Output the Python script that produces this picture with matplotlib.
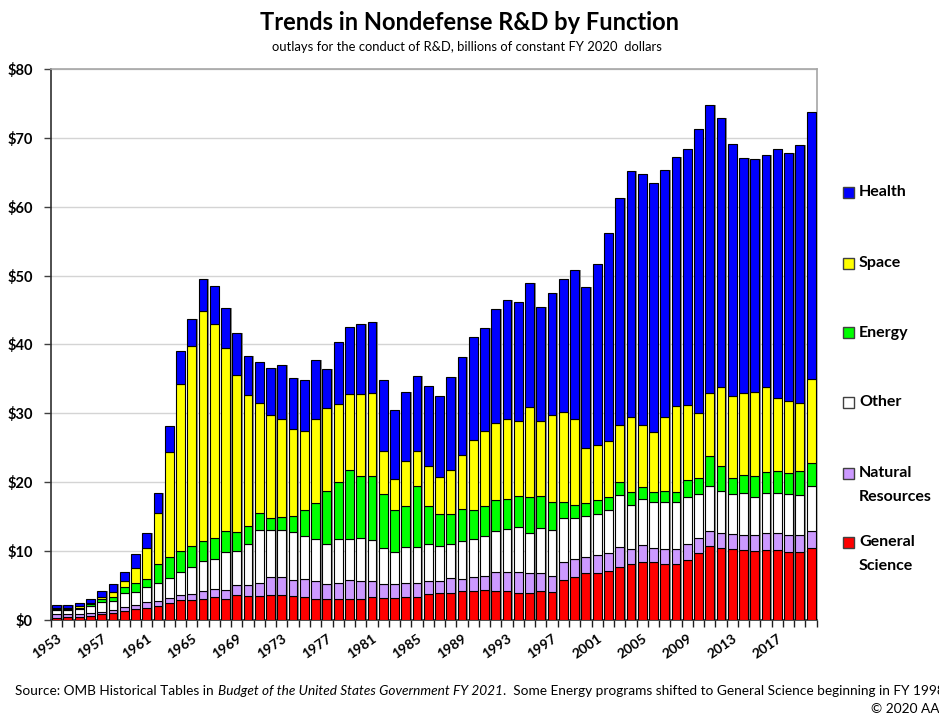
import numpy as np
import matplotlib.pyplot as plt
from matplotlib.patches import Rectangle

# Nondefense R&D outlays by function, billions of constant FY 2020 dollars
years = list(range(1953, 2021))

general_science = [
    0.35, 0.4, 0.45, 0.55, 0.8, 1.0, 1.35, 1.55, 1.8, 2.1,
    2.45, 2.85, 2.85, 3.1, 3.4, 3.1, 3.65, 3.5, 3.5, 3.6,
    3.6, 3.5, 3.35, 3.1, 3.1, 3.05, 3.05, 3.05, 3.4, 3.2,
    3.2, 3.35, 3.35, 3.8, 3.95, 3.95, 4.15, 4.15, 4.3, 4.15,
    4.15, 3.9, 3.95, 4.25, 4.1, 5.75, 6.3, 6.75, 6.85, 7.05,
    7.75, 8.2, 8.35, 8.35, 8.2, 8.2, 8.7, 9.7, 10.7, 10.4,
    10.25, 10.1, 9.95, 10.1, 10.1, 9.8, 9.8, 10.4]
natural_resources = [
    0.45, 0.4, 0.4, 0.45, 0.4, 0.45, 0.6, 0.6, 0.8, 0.6,
    0.7, 0.8, 0.9, 1.1, 1.15, 1.2, 1.4, 1.6, 1.8, 2.6,
    2.6, 2.25, 2.65, 2.5, 2.1, 2.25, 2.8, 2.65, 2.3, 2.0,
    2.0, 1.95, 1.95, 1.9, 1.75, 2.2, 1.85, 2.15, 2.15, 2.75,
    2.85, 3.0, 2.85, 2.55, 2.35, 2.6, 2.5, 2.45, 2.55, 2.65,
    2.8, 2.15, 2.5, 2.05, 2.05, 2.1, 2.3, 2.15, 2.15, 2.3,
    2.2, 2.2, 2.35, 2.5, 2.6, 2.5, 2.5, 2.45]
other = [
    0.7, 0.7, 0.8, 1.0, 1.4, 1.25, 1.95, 1.95, 2.15, 2.65,
    2.9, 3.25, 3.95, 4.3, 4.35, 5.5, 4.9, 6.0, 7.8, 6.9,
    6.9, 7.05, 6.25, 6.2, 5.8, 6.5, 5.95, 6.25, 5.85, 5.2,
    4.6, 5.25, 5.25, 5.4, 5.0, 4.85, 5.4, 5.4, 5.7, 6.05,
    6.25, 6.65, 5.9, 6.5, 6.65, 6.4, 5.95, 5.85, 5.95, 6.3,
    7.55, 6.3, 6.65, 6.7, 6.95, 6.9, 6.9, 6.45, 6.6, 6.1,
    5.8, 6.15, 5.5, 5.8, 5.7, 5.95, 5.8, 6.6]
energy = [
    0.1, 0.1, 0.15, 0.3, 0.4, 0.7, 0.85, 1.25, 1.15, 2.75,
    3.05, 3.1, 3.0, 2.95, 2.95, 3.05, 2.8, 2.5, 2.4, 1.65,
    1.85, 2.25, 3.65, 5.2, 7.7, 8.3, 10.0, 9.0, 9.3, 7.85,
    6.1, 5.95, 8.9, 5.4, 4.65, 4.35, 4.65, 4.2, 4.35, 4.4,
    4.25, 4.4, 5.1, 4.65, 4.1, 2.35, 1.9, 1.9, 2.0, 1.8,
    1.9, 1.9, 1.75, 1.45, 1.6, 1.4, 2.4, 2.25, 4.35, 3.55,
    2.3, 2.55, 3.05, 3.05, 3.2, 3.05, 3.5, 3.3]
space = [
    0.2, 0.2, 0.25, 0.2, 0.3, 0.6, 0.85, 2.15, 4.5, 7.4,
    15.35, 24.3, 29.15, 33.35, 31.1, 26.6, 22.75, 19.0, 16.0, 15.05,
    14.25, 12.65, 11.5, 12.2, 12.05, 11.25, 11.0, 11.9, 12.15, 6.25,
    4.5, 6.6, 5.05, 5.85, 5.35, 6.45, 7.85, 10.2, 10.9, 11.25,
    11.7, 10.95, 13.15, 10.95, 12.6, 13.1, 12.55, 8.0, 8.05, 8.2,
    8.35, 10.95, 9.1, 8.75, 10.6, 12.45, 10.95, 9.55, 9.2, 11.45,
    12.0, 12.0, 12.25, 12.35, 10.6, 10.5, 9.9, 12.25]
health = [
    0.4, 0.4, 0.45, 0.6, 0.9, 1.2, 1.4, 2.1, 2.2, 2.95,
    3.65, 4.7, 3.85, 4.75, 5.55, 5.8, 6.2, 5.8, 5.95, 6.75,
    7.75, 7.4, 7.5, 8.5, 5.75, 8.95, 9.7, 10.1, 10.3, 10.35,
    10.15, 9.95, 10.9, 11.6, 11.8, 13.45, 14.25, 15.05, 15.0, 16.55,
    17.3, 17.3, 18.0, 16.5, 17.7, 19.35, 21.55, 23.45, 26.25, 30.15,
    32.9, 35.75, 36.4, 36.15, 35.95, 36.15, 37.15, 41.25, 41.7, 39.1,
    36.55, 34.1, 33.85, 33.7, 36.2, 36.0, 37.5, 38.8]

series_names = ["General\nScience", "Natural\nResources", "Other", "Energy", "Space", "Health"]
series_colors = ["#FF0000", "#CC99FF", "#FFFFFF", "#00FF00", "#FFFF00", "#0000FF"]
y_ticks = [0, 10, 20, 30, 40, 50, 60, 70, 80]

plt.rcParams["font.family"] = ["Lato", "DejaVu Sans"]

fig = plt.figure(figsize=(9.39, 7.17), dpi=100)
ax = fig.add_axes([0.0543, 0.1353, 0.8155, 0.7685])

x = np.arange(len(years))
stack = [general_science, natural_resources, other, energy, space, health]
width = 0.78

# soft shadow behind each bar, like the spreadsheet original
total = np.sum(np.array(stack), axis=0)
ax.bar(x + 0.14, total, width, color="#8c8c8c", zorder=2, linewidth=0)

bottom = np.zeros(len(years))
for values, color in zip(stack, series_colors):
    ax.bar(x, values, width, bottom=bottom, color=color,
           edgecolor="black", linewidth=0.8, zorder=3)
    bottom += np.array(values)

ax.set_xlim(-0.5, len(years) - 0.5)
ax.set_ylim(0, 80)

ax.set_yticks(y_ticks)
ax.set_yticklabels([f"${v}" for v in y_ticks], fontweight="bold", fontsize=10.5)
ax.tick_params(axis="y", direction="out", length=5, width=1, color="#404040", pad=8)
ax.yaxis.grid(True, color="#d4d4d4", linewidth=1)
ax.set_axisbelow(True)

# tick marks between categories, labels every fourth year
ax.set_xticks(np.arange(-0.5, len(years), 1.0))
ax.set_xticklabels([])
ax.tick_params(axis="x", which="major", direction="out", length=5, width=1, color="#202020")
label_pos = x[::4]
ax.set_xticks(label_pos, minor=True)
ax.set_xticklabels([str(years[i]) for i in label_pos], minor=True, rotation=35,
                   ha="right", rotation_mode="anchor", fontweight="bold", fontsize=10)
ax.tick_params(axis="x", which="minor", length=0, pad=9)

for side in ["left", "bottom"]:
    ax.spines[side].set_color("#303030")
    ax.spines[side].set_linewidth(1.2)
for side in ["top", "right"]:
    ax.spines[side].set_color("#a6a6a6")
    ax.spines[side].set_linewidth(1.2)

fig.text(0.5, 0.969, "Trends in Nondefense R&D by Function", ha="center", va="center",
         fontsize=17, fontweight="bold")
fig.text(0.497, 0.934, "outlays for the conduct of R&D, billions of constant FY 2020  dollars",
         ha="center", va="center", fontsize=9.4)

# legend on the right; pixel row of each entry's first line (same order as the stack)
legend_rows = [542, 473, 402, 333, 263, 192]
for name, color, row in zip(series_names, series_colors, legend_rows):
    fig.add_artist(Rectangle((843 / 939, 1 - (row + 5.5) / 717), 11 / 939, 11 / 717,
                             facecolor=color, edgecolor="#404040", linewidth=1,
                             transform=fig.transFigure))
    for k, line in enumerate(name.split("\n")):
        fig.text(859 / 939, 1 - (row + 24 * k) / 717, line, ha="left", va="center",
                 fontsize=11.5, fontweight="bold")

src = fig.text(15 / 939, 0.028, "Source: OMB Historical Tables in", ha="left", va="bottom",
               fontsize=9.8)
ital = ax.annotate("Budget of the United States Government FY 2021", xy=(1, 0),
                   xycoords=src, xytext=(3, 0), textcoords="offset points",
                   ha="left", va="bottom", fontsize=9.8, style="italic",
                   annotation_clip=False)
ax.annotate(".  Some Energy programs shifted to General Science beginning in FY 1998.",
            xy=(1, 0), xycoords=ital, ha="left", va="bottom", fontsize=9.8,
            annotation_clip=False)
fig.text(871 / 939, 0.011, "\u00a9 2020 AAAS", ha="left", va="center", fontsize=9.8)

fig.savefig("out.png", dpi=100)
